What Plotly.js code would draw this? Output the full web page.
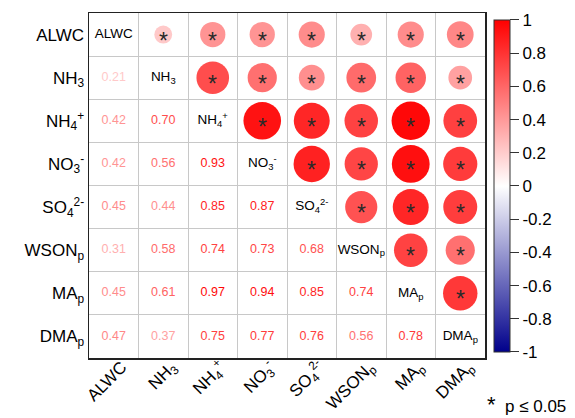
<!DOCTYPE html>
<html><head><meta charset="utf-8">
<script src="https://cdn.plot.ly/plotly-3.0.1.min.js"></script>
<style>html,body{margin:0;padding:0;background:#fff}</style>
</head><body><div id="chart" style="width:575px;height:418px"></div>
<script>
// Variable names (axis + diagonal labels)
const varLabels = ['ALWC','NH<sub>3</sub>','NH<sub>4</sub><sup>+</sup>','NO<sub>3</sub><sup>-</sup>',
  'SO<sub>4</sub><sup>2-</sup>','WSON<sub>p</sub>','MA<sub>p</sub>','DMA<sub>p</sub>'];
// Lower-triangle correlation coefficients (row i, columns 0..i-1)
const rowNH3  = [0.21];
const rowNH4  = [0.42, 0.70];
const rowNO3  = [0.42, 0.56, 0.93];
const rowSO4  = [0.45, 0.44, 0.85, 0.87];
const rowWSON = [0.31, 0.58, 0.74, 0.73, 0.68];
const rowMA   = [0.45, 0.61, 0.97, 0.94, 0.85, 0.74];
const rowDMA  = [0.47, 0.37, 0.75, 0.77, 0.76, 0.56, 0.78];
const lowerRows = [[], rowNH3, rowNH4, rowNO3, rowSO4, rowWSON, rowMA, rowDMA];
// Colorbar ticks
const cbTickVals = [-1,-0.8,-0.6,-0.4,-0.2,0,0.2,0.4,0.6,0.8,1];
const cbTickText = ['-1','-0.8','-0.6','-0.4','-0.2','0','0.2','0.4','0.6','0.8','1'];

const n = varLabels.length;
const stops = [[-1,[0,0,139]],[0,[255,255,255]],[1,[255,0,0]]];
const colorscale = [[0,'rgb(0,0,139)'],[0.5,'rgb(255,255,255)'],[1,'rgb(255,0,0)']];
function valColor(v){
  let a = stops[0], b = stops[1];
  if (v > 0) { a = stops[1]; b = stops[2]; }
  const t = (v - a[0])/(b[0]-a[0]);
  const c = a[1].map((x,k)=>Math.round(x + (b[1][k]-x)*t));
  return 'rgb('+c.join(',')+')';
}
const FONT = 'Arial, "Liberation Sans", sans-serif';

// upper triangle circles
const cx=[], cy=[], cv=[], cs=[];
const tx=[], ty=[], tt=[], tc=[];
for (let i=0;i<n;i++){
  for (let j=0;j<i;j++){
    const v = lowerRows[i][j];
    // lower: number
    tx.push(j); ty.push(i); tt.push(v.toFixed(2)); tc.push(valColor(v));
    // upper: circle (mirror)
    cx.push(i); cy.push(j); cv.push(v); cs.push(39*Math.sqrt(Math.abs(v)));
  }
}
const dIdx = varLabels.map((_,k)=>k);

const traces = [
  {type:'scatter', mode:'markers', x:cx, y:cy, hoverinfo:'skip',
   marker:{size:cs, sizemode:'diameter', opacity:1, color:cv, cmin:-1, cmax:1, colorscale:colorscale,
     line:{width:0}, showscale:true,
     colorbar:{x:1.0227, xanchor:'left', xpad:0, y:0.4986, yanchor:'middle', ypad:0,
       thickness:16, thicknessmode:'pixels', len:332, lenmode:'pixels',
       tickmode:'array', tickvals:cbTickVals, ticktext:cbTickText,
       ticks:'outside', ticklen:9, tickwidth:1, tickcolor:'#333',
       tickfont:{family:FONT, size:17, color:'#000'},
       outlinewidth:1, outlinecolor:'#333'}}},
  {type:'scatter', mode:'text', x:tx, y:ty, text:tt, hoverinfo:'skip',
   textposition:'middle center', textfont:{family:FONT, size:12.5, color:tc}},
  {type:'scatter', mode:'text', x:dIdx, y:dIdx, text:varLabels, hoverinfo:'skip',
   textposition:'middle center', textfont:{family:FONT, size:13.5, color:'#000'}}
];

const annotations = cx.map((x,k)=>({x:x, y:cy[k], xref:'x', yref:'y', text:'*', showarrow:false,
  font:{family:FONT, size:23, color:'#2a2a2a'}, yshift:-6}));
annotations.push({xref:'paper', yref:'paper', x:1.2096, y:-0.135, xanchor:'right', yanchor:'middle',
  text:'<span style="font-size:22px">*</span>\u00a0 p ≤ 0.05', showarrow:false, font:{family:FONT, size:17, color:'#000'}});

const gridVals = [0.5,1.5,2.5,3.5,4.5,5.5,6.5];
const axisCommon = {tickmode:'array', tickvals:dIdx, ticktext:varLabels, showgrid:false, zeroline:false,
  showline:true, mirror:true, linecolor:'#222', linewidth:1.5, ticks:'',
  tickfont:{family:FONT, size:17, color:'#000'}, fixedrange:true,
  minor:{tickmode:'array', tickvals:gridVals, showgrid:true, gridcolor:'#c8c8c8', gridwidth:1, ticks:''}};

const layout = {
  width:575, height:418, margin:{l:89, r:90, t:13, b:60},
  paper_bgcolor:'#fff', plot_bgcolor:'#fff', showlegend:false,
  xaxis:Object.assign({}, axisCommon, {range:[-0.5,7.5], tickangle:-45, ticklabelstandoff:-9, ticklabelshift:8}),
  yaxis:Object.assign({}, axisCommon, {range:[7.5,-0.5]}),
  annotations:annotations
};
Plotly.newPlot('chart', traces, layout, {displayModeBar:false, staticPlot:true});
</script></body></html>
